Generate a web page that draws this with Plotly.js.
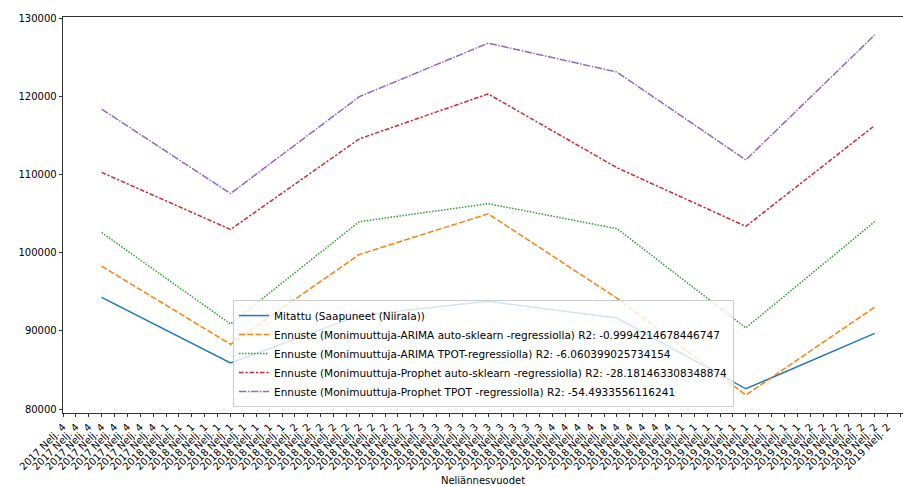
<!DOCTYPE html>
<html>
<head>
<meta charset="utf-8">
<script src="https://cdn.plot.ly/plotly-3.0.1.min.js"></script>
<style>
html, body { margin: 0; padding: 0; background: #fff; overflow: hidden; }
#chart { width: 903px; height: 486px; }
</style>
</head>
<body>
<div id="chart"></div>
<script>
// Quarter labels (x categories, one per data point)
const quarters = ["2017 Nelj. 4", "2018 Nelj. 1", "2018 Nelj. 2", "2018 Nelj. 3", "2018 Nelj. 4", "2019 Nelj. 1", "2019 Nelj. 2"];

// Series values
const mitattu      = [94300, 85900, 92000, 93800, 91650, 82600, 89700];
const arimaAuto    = [98300, 88300, 99800, 105000, 94200, 81800, 93050];
const arimaTpot    = [102600, 90900, 104000, 106300, 103100, 90400, 104000];
const prophetAuto  = [110300, 103000, 114600, 120350, 110900, 103400, 116300];
const prophetTpot  = [118400, 107600, 120000, 126850, 123150, 111900, 127900];

const seriesNames = [
  "Mitattu (Saapuneet (Niirala))",
  "Ennuste (Monimuuttuja-ARIMA auto-sklearn -regressiolla) R2: -0.9994214678446747",
  "Ennuste (Monimuuttuja-ARIMA TPOT-regressiolla) R2: -6.060399025734154",
  "Ennuste (Monimuuttuja-Prophet auto-sklearn -regressiolla) R2: -28.181463308348874",
  "Ennuste (Monimuuttuja-Prophet TPOT -regressiolla) R2: -54.4933556116241"
];

const yTicks = [80000, 90000, 100000, 110000, 120000, 130000];

const xIdx = quarters.map((q, i) => i);
const allSeries = [mitattu, arimaAuto, arimaTpot, prophetAuto, prophetTpot];
const colors = ["#1f77b4", "#ff7f0e", "#2ca02c", "#d62728", "#9467bd"];
const dashes = ["solid", "6px,2.25px", "1.5px,1.5px", "4.5px,1.875px,2.25px,1.875px", "7.5px,1.5px,1.5px,1.5px"];

const traces = allSeries.map((vals, k) => ({
  type: "scatter",
  mode: "lines",
  x: xIdx,
  y: vals,
  name: seriesNames[k],
  line: { color: colors[k], width: 1.5, dash: dashes[k] }
}));

// Minor-step ticks (every tenth of a quarter), labelled with the nearest quarter
const tickVals = [];
const tickText = [];
for (let k = -3; k <= 62; k++) {
  const v = k / 10;
  tickVals.push(v);
  tickText.push(quarters[Math.round(v + 1e-9)]);
}

const font = { family: "DejaVu Sans, sans-serif", size: 10, color: "#000" };

const layout = {
  width: 903,
  height: 486,
  margin: { l: 63, r: 0, t: 17, b: 73 },
  paper_bgcolor: "#fff",
  plot_bgcolor: "#fff",
  font: font,
  showlegend: true,
  legend: {
    x: 0.2024, y: 0.015, xanchor: "left", yanchor: "bottom",
    bgcolor: "rgba(255,255,255,0.8)",
    bordercolor: "#cccccc", borderwidth: 1,
    font: { family: "DejaVu Sans, sans-serif", size: 10.5, color: "#000" }
  },
  xaxis: {
    range: [-0.3, 6.22],
    tickmode: "array",
    tickvals: tickVals,
    ticktext: tickText,
    tickangle: -45,
    ticks: "outside", ticklen: 3.5, tickwidth: 0.8, tickcolor: "#000",
    showline: true, linecolor: "#000", linewidth: 0.8, mirror: true,
    showgrid: false, zeroline: false,
    tickfont: font,
    title: { text: "Neliännesvuodet", font: font, standoff: 5 }
  },
  yaxis: {
    range: [79500, 130200],
    tickmode: "array",
    tickvals: yTicks,
    tickformat: "d",
    ticks: "outside", ticklen: 3.5, tickwidth: 0.8, tickcolor: "#000",
    showline: true, linecolor: "#000", linewidth: 0.8,
    showgrid: false, zeroline: false,
    tickfont: font
  }
};

Plotly.newPlot("chart", traces, layout, { staticPlot: true, displayModeBar: false });
</script>
</body>
</html>
